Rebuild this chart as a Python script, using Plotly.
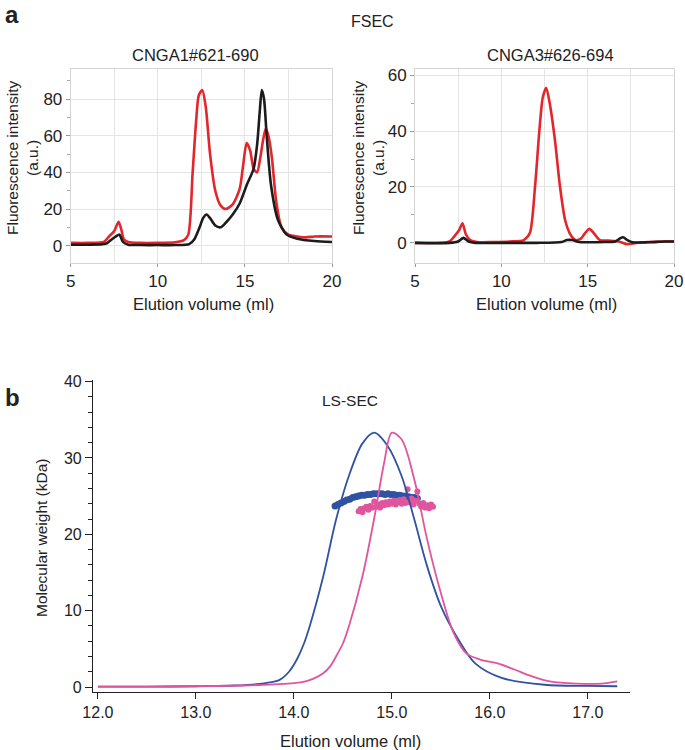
import plotly.graph_objects as go

# ---- panel a, FSEC traces (elution volume in ml, fluorescence in a.u.) ----
a1_red_x = [5.0, 6.0, 6.9, 7.2, 7.5, 7.75, 7.9, 8.05, 8.3, 9.0, 10.0, 11.0, 11.5, 11.75, 12.0,
            12.2, 12.35, 12.55, 12.75, 13.0, 13.3, 13.6, 13.9, 14.3, 14.7, 14.9, 15.1, 15.3,
            15.5, 15.7, 15.9, 16.05, 16.2, 16.35, 16.55, 16.8, 17.1, 17.5, 18.0, 18.5, 19.0, 20.0]
a1_red_y = [1.5, 1.5, 2.0, 5.0, 8.0, 13.0, 9.0, 3.5, 2.0, 1.5, 1.5, 1.8, 3.0, 6.0, 40.0,
            68.0, 82.0, 85.0, 76.0, 50.0, 30.0, 22.0, 20.0, 22.5, 31.0, 44.0, 56.0, 52.0,
            42.0, 40.0, 49.0, 58.0, 64.0, 60.0, 48.0, 24.0, 10.0, 6.0, 5.0, 4.5, 5.0, 5.0]

a1_black_x = [5.0, 6.0, 7.0, 7.3, 7.6, 7.8, 8.0, 8.3, 9.0, 10.0, 11.0, 11.8, 12.1, 12.4, 12.6,
              12.8, 13.0, 13.3, 13.6, 13.9, 14.3, 14.7, 15.1, 15.5, 15.7, 15.85, 15.97, 16.1,
              16.25, 16.5, 16.9, 17.4, 18.0, 19.0, 20.0]
a1_black_y = [0.5, 0.5, 1.0, 3.0, 5.0, 6.0, 2.0, 0.5, 0.3, 0.3, 0.3, 0.8, 3.5, 10.0, 15.0,
              17.0, 15.0, 11.0, 10.0, 12.5, 17.0, 23.0, 33.0, 42.0, 55.0, 73.0, 85.0, 80.0,
              60.0, 33.0, 14.0, 6.0, 3.8, 2.5, 2.0]

a3_red_x = [5.0, 6.5, 7.0, 7.3, 7.55, 7.75, 7.95, 8.2, 8.6, 9.5, 10.5, 11.3, 11.65, 11.95,
            12.2, 12.4, 12.6, 12.8, 13.1, 13.4, 13.7, 14.0, 14.3, 14.6, 14.85, 15.1, 15.35,
            15.7, 16.2, 16.8, 17.3, 17.8, 18.5, 19.5, 20.0]
a3_red_y = [0.0, 0.0, 0.5, 2.5, 4.5, 7.0, 3.0, 1.0, 0.3, 0.3, 0.5, 1.0, 3.5, 20.0,
            40.0, 52.0, 55.5, 50.0, 37.0, 20.0, 8.0, 3.0, 1.0, 1.5, 3.5, 5.0, 3.5,
            1.0, 0.8, 0.5, -0.5, 0.0, 0.3, 0.5, 0.5]

a3_black_x = [5.0, 7.0, 7.5, 7.8, 8.1, 8.5, 10.0, 12.0, 13.5, 13.8, 14.1, 14.5, 15.0, 16.0,
              16.6, 16.85, 17.05, 17.3, 17.6, 18.5, 19.5, 20.0]
a3_black_y = [0.0, 0.0, 0.5, 1.8, 0.5, 0.0, 0.0, 0.0, 0.3, 1.0, 1.0, 0.3, 0.2, 0.3,
              0.5, 1.5, 2.0, 1.0, 0.2, 0.2, 0.5, 0.5]

# ---- panel b, LS-SEC ----
blue_x = [12.0, 12.5, 13.0, 13.4, 13.65, 13.75, 13.85, 13.95, 14.03, 14.1, 14.16, 14.3, 14.43,
          14.56, 14.7, 14.82, 14.96, 15.1, 15.23, 15.36, 15.5, 15.68, 15.85, 16.12, 16.56,
          17.0, 17.3]
blue_y = [0.05, 0.05, 0.1, 0.2, 0.4, 0.6, 0.9, 2.0, 3.6, 5.6, 7.9, 14.5, 21.9,
          27.6, 31.9, 33.3, 31.5, 27.6, 21.9, 15.8, 10.6, 6.2, 3.1, 1.2, 0.3,
          0.15, 0.1]

pink_x = [12.0, 12.5, 13.0, 13.5, 13.8, 14.0, 14.12, 14.2, 14.3, 14.37, 14.43, 14.5, 14.56,
          14.7, 14.83, 14.92, 15.0, 15.1, 15.23, 15.36, 15.5, 15.63, 15.76, 15.9, 16.08,
          16.25, 16.43, 16.61, 16.88, 17.14, 17.3]
pink_y = [0.05, 0.05, 0.1, 0.2, 0.35, 0.5, 0.75, 1.1, 1.8, 2.7, 4.0, 5.7, 7.9,
          14.5, 22.8, 29.3, 33.3, 32.4, 27.1, 19.3, 12.3, 7.1, 4.4, 3.6, 3.1,
          2.3, 1.4, 0.75, 0.45, 0.45, 0.75]

blue_mw_x = [14.42, 14.45, 14.48, 14.51, 14.54, 14.57, 14.60, 14.63, 14.66, 14.69, 14.72,
             14.75, 14.78, 14.81, 14.84, 14.87, 14.90, 14.93, 14.96, 14.99, 15.02, 15.05,
             15.08, 15.11, 15.14, 15.17, 15.20, 15.23, 15.26]
blue_mw_y = [23.7, 23.9, 24.1, 24.3, 24.5, 24.6, 24.8, 24.9, 25.0, 25.1, 25.1,
             25.2, 25.2, 25.3, 25.3, 25.3, 25.3, 25.2, 25.3, 25.2, 25.2, 25.1,
             25.1, 25.0, 25.0, 24.9, 24.8, 24.8, 24.7]

pink_mw_x = [14.66, 14.68, 14.70, 14.72, 14.74, 14.76, 14.78, 14.80, 14.82, 14.84, 14.86,
             14.88, 14.90, 14.92, 14.94, 14.96, 14.98, 15.00, 15.02, 15.04, 15.06, 15.08,
             15.10, 15.12, 15.14, 15.16, 15.18, 15.20, 15.22, 15.24, 15.26, 15.28, 15.30,
             15.32, 15.34, 15.36, 15.38, 15.40, 15.42]
pink_mw_y = [23.0, 23.3, 22.9, 23.4, 23.6, 23.2, 23.7, 23.5, 24.3, 23.6, 23.9,
             23.5, 24.1, 23.8, 24.2, 23.9, 24.3, 24.0, 24.4, 23.9, 24.2, 24.5,
             24.0, 24.6, 24.1, 25.9, 24.2, 24.7, 23.9, 24.4, 25.6, 24.0, 23.6,
             24.1, 23.5, 23.8, 23.4, 23.9, 23.6]

RED = "#e3262b"
BLACK = "#1c1c1c"
BLUE = "#2f52a2"
PINK = "#e0559d"
FONT = "Liberation Sans, Arial, sans-serif"
W, H = 685, 750


def px(x):
    return x / W


def py(y):
    return 1 - y / H


fig = go.Figure()

spline = dict(shape="spline", smoothing=0.7)
fig.add_trace(go.Scatter(x=a1_red_x, y=a1_red_y, mode="lines",
                         line=dict(color=RED, width=2.6, **spline), xaxis="x", yaxis="y"))
fig.add_trace(go.Scatter(x=a1_black_x, y=a1_black_y, mode="lines",
                         line=dict(color=BLACK, width=2.6, **spline), xaxis="x", yaxis="y"))
fig.add_trace(go.Scatter(x=a3_red_x, y=a3_red_y, mode="lines",
                         line=dict(color=RED, width=2.6, **spline), xaxis="x2", yaxis="y2"))
fig.add_trace(go.Scatter(x=a3_black_x, y=a3_black_y, mode="lines",
                         line=dict(color=BLACK, width=2.6, **spline), xaxis="x2", yaxis="y2"))

fig.add_trace(go.Scatter(x=blue_mw_x, y=blue_mw_y, mode="markers",
                         marker=dict(color=BLUE, size=7), xaxis="x3", yaxis="y3"))
fig.add_trace(go.Scatter(x=pink_mw_x, y=pink_mw_y, mode="markers",
                         marker=dict(color=PINK, size=6), xaxis="x3", yaxis="y3"))
fig.add_trace(go.Scatter(x=blue_x, y=blue_y, mode="lines",
                         line=dict(color=BLUE, width=1.8, shape="spline", smoothing=0.9),
                         xaxis="x3", yaxis="y3"))
fig.add_trace(go.Scatter(x=pink_x, y=pink_y, mode="lines",
                         line=dict(color=PINK, width=1.8, shape="spline", smoothing=0.9),
                         xaxis="x3", yaxis="y3"))

# FSEC panels: light frame, grid, small outside ticks
fsec_x = dict(range=[5, 20], tickvals=[5, 10, 15, 20], showgrid=True, gridcolor="#e4e4e4",
              showline=True, mirror=True, linecolor="#d4d4d4", zeroline=False,
              ticks="outside", ticklen=3, tickcolor="#999999", automargin=False,
              minor=dict(dtick=2.5, showgrid=True, gridcolor="#e4e4e4", ticks=""),
              tickfont=dict(size=17, color="#222222"))
fsec_y = dict(showgrid=True, gridcolor="#e4e4e4", dtick=20,
              showline=True, mirror=True, linecolor="#d4d4d4", zeroline=False,
              ticks="outside", ticklen=4, tickcolor="#999999", automargin=False,
              minor=dict(dtick=10, ticks="outside", ticklen=3, tickcolor="#aaaaaa"),
              tickfont=dict(size=17, color="#222222"))

ya = [py(263), py(69)]
fig.update_layout(
    width=W, height=H, margin=dict(l=0, r=0, t=0, b=0),
    paper_bgcolor="white", plot_bgcolor="white", showlegend=False,
    font=dict(family=FONT, color="#222222"),
    xaxis=dict(fsec_x, domain=[px(70.7), px(332)], anchor="y"),
    yaxis=dict(fsec_y, domain=ya, range=[-9.5, 96.5], anchor="x"),
    xaxis2=dict(fsec_x, domain=[px(415), px(674)], anchor="y2"),
    yaxis2=dict(fsec_y, domain=ya, range=[-7.2, 62.2], anchor="x2"),
    xaxis3=dict(domain=[px(93), px(630)], range=[11.95, 17.43], anchor="y3",
                dtick=1, tickformat=".1f", showgrid=False, zeroline=False,
                showline=True, linecolor="#222222", linewidth=1.2, automargin=False,
                ticks="outside", ticklen=6, tickcolor="#222222",
                tickfont=dict(size=16, color="#222222")),
    yaxis3=dict(domain=[py(692), py(380)], range=[-0.65, 40.2], anchor="x3",
                dtick=10, showgrid=False, zeroline=False, automargin=False,
                showline=True, linecolor="#222222", linewidth=1.2,
                ticks="outside", ticklen=7, tickcolor="#222222",
                minor=dict(dtick=2, ticks="outside", ticklen=4, tickcolor="#222222"),
                tickfont=dict(size=16, color="#222222")),
)


def label(text, x, y, size=15, angle=0, anchor="center"):
    fig.add_annotation(text=text, x=px(x), y=py(y), xref="paper", yref="paper",
                       xanchor=anchor, yanchor="middle", showarrow=False, textangle=angle,
                       font=dict(size=size, family=FONT, color="#222222"))


label("<b>a</b>", 3, 14, size=24, anchor="left")
label("<b>b</b>", 3, 398, size=24, anchor="left")
label("FSEC", 372, 22, size=16)
label("CNGA1#621-690", 196, 55, size=16.5)
label("CNGA3#626-694", 550, 55, size=16.5)
label("Fluorescence intensity<br>(a.u.)", 22, 158, size=15.5, angle=-90)
label("Fluorescence intensity<br>(a.u.)", 368, 158, size=15.5, angle=-90)
label("Elution volume (ml)", 203, 304, size=16.5)
label("Elution volume (ml)", 546, 304, size=16.5)
label("LS-SEC", 350, 400, size=15.5)
label("Molecular weight (kDa)", 41, 538, size=15.5, angle=-90)
label("Elution volume (ml)", 350, 741, size=16.5)

# the page's default body margin would shift the whole figure by 8 px
fig.write_html("out.html", config={"displayModeBar": False},
               post_script="document.body.style.margin='0';")
